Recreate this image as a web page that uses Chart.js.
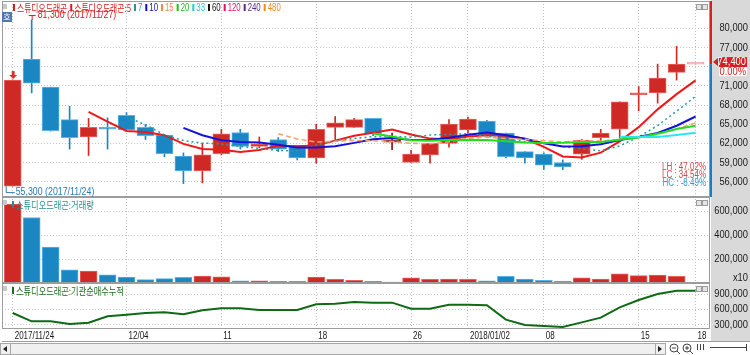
<!DOCTYPE html>
<html>
<head>
<meta charset="utf-8">
<script src="https://cdn.jsdelivr.net/npm/chart.js@4.4.0/dist/chart.umd.min.js"></script>
<style>
html, body { margin: 0; padding: 0; background: #fff; }
canvas { display: block; }
</style>
</head>
<body>
<canvas id="chart" width="750" height="355"></canvas>
<script>
// trading days shown on the chart
const dates = ['2017/11/24','2017/11/27','2017/11/28','2017/11/29','2017/11/30','2017/12/01',
  '2017/12/04','2017/12/05','2017/12/06','2017/12/07','2017/12/08','2017/12/11','2017/12/12',
  '2017/12/13','2017/12/14','2017/12/15','2017/12/18','2017/12/19','2017/12/20','2017/12/21',
  '2017/12/22','2017/12/26','2017/12/27','2017/12/28','2018/01/02','2018/01/03','2018/01/04',
  '2018/01/05','2018/01/08','2018/01/09','2018/01/10','2018/01/11','2018/01/12','2018/01/15',
  '2018/01/16','2018/01/17','2018/01/18'];

const openP  = [55300,75200,70800,65700,63000,64300,66400,64500,63300,60000,57700,60400,63700,61500,62600,61700,59700,64500,64500,65900,62200,59000,60200,62000,64100,65500,63600,60700,60300,59000,60300,62900,64200,69600,69900,73100,74400];
const highP  = [71900,81300,70800,67800,65900,66000,66800,65000,63300,60500,62000,64200,64200,63000,62900,61700,65000,66200,65900,65900,63600,60900,62000,65700,66100,65600,63600,60700,60500,59400,62600,64200,68500,70900,74400,77200,74400];
const lowP   = [55300,69900,63900,61100,60100,61100,64100,62600,59900,55700,55800,60200,61100,61300,60700,59400,58900,62600,64500,63200,61000,59000,58900,61400,63600,63000,59700,58900,57900,57900,59500,62300,62800,67100,68300,71900,74400];
const closeP = [71900,71400,64000,62900,64500,64200,64100,63200,60400,57700,60200,63500,61500,61900,61100,59700,64200,65200,65700,63500,62200,60300,62000,65000,65800,63200,59900,59700,58600,58300,62500,63600,68500,69800,72200,74400,74400];

// moving averages (null = not drawn yet)
const ma5  = [null,null,null,null,66940,65400,63940,63780,63280,61920,61120,61000,60660,60960,61640,61540,61680,62420,63180,63660,64160,63380,62740,62600,63060,63260,63180,62720,61440,59940,59800,60540,62300,64540,67320,69700,71860];
const ma7  = [null,null,null,null,null,null,66140,64900,63330,62430,62040,61900,61510,61200,60900,60800,61730,62440,62760,63040,63090,62970,63300,63410,63500,63140,62630,62270,62030,61500,61140,60830,61590,63000,64790,67040,69340];
const ma10 = [null,null,null,null,null,null,null,null,null,64430,63260,62470,62220,62120,61780,61330,61340,61540,62070,62650,62850,62530,62580,62890,63360,63710,63280,62730,62020,61500,61530,61860,62510,62990,63630,64750,66200];
const ma15 = [null,null,null,null,null,null,null,null,null,null,null,null,null,null,63500,62690,62210,62290,62470,62410,62270,62020,61940,62250,62790,62990,62750,62630,62410,62220,62410,62370,62590,62860,63440,64250,65190];
const ma20 = [null,null,null,null,null,null,null,null,null,null,null,null,null,null,null,null,null,null,null,63540,63060,62500,62400,62510,62570,62520,62310,62140,62050,62080,62190,62200,62550,62940,63500,64230,64740];
const ma33 = [null,null,null,null,null,null,null,null,null,null,null,null,null,null,null,null,null,null,null,null,null,null,null,null,null,null,null,null,null,null,null,null,63040,62980,63000,63320,63670];

// 거래량 (x10) and 기관순매수누적
const volume  = [657000,546000,300000,110000,99000,69000,50000,28000,36000,47000,58000,52000,19000,19000,14000,14000,50000,30000,22000,14000,8000,44000,30000,33000,30000,19000,55000,33000,22000,17000,44000,33000,77000,61000,66000,55000,0];
const instCum = [528000,364000,364000,312000,338000,462000,495000,528000,540000,501000,580000,619000,619000,586000,586000,586000,697000,710000,743000,730000,730000,612000,612000,691000,691000,678000,397000,292000,273000,253000,344000,436000,639000,782000,900000,965000,965000];

// tick labels
const xTickIdx  = [0, 6, 11, 16, 21, 24, 28, 33, 36];
const xTickText = ['2017/11/24','12/04','11','18','26','2018/01/02','08','15','18'];
const priceTicks = [56000,59000,62000,65000,68000,71000,74000,77000,80000];
const volTicks   = [200000,400000,600000];
const instTicks  = [300000,600000,900000];

const legendNames = ['스튜디오드래곤','스튜디오드래곤:5','7','10','15','20','33','60','120','240','480'];
const legendColors = ['#d42020','#e01818','#2a9090','#1010cc','#f08848','#22bb22','#22cccc','#111111','#e0106a','#5a2a8a','#f08a20'];

const RED = '#cf2925', RED_B = '#e8625c';
const BLUE = '#1a86c2', BLUE_B = '#5bb3e6';
const DARK = '#8c1414', PALE = '#efa8a8';

function candleColor(i, border) {
  if (volume[i] === 0) return PALE;
  if (closeP[i] > openP[i]) return border ? RED_B : RED;
  if (closeP[i] < openP[i]) return border ? BLUE_B : BLUE;
  return DARK;
}

const NUM = '"Liberation Sans", Arial, sans-serif';
const KR = '"Noto Sans CJK KR", sans-serif';

function txt(ctx, s, x, y, color, font, align, sx) {
  ctx.save();
  ctx.font = font;
  ctx.fillStyle = color;
  ctx.textBaseline = 'middle';
  ctx.textAlign = align || 'left';
  ctx.translate(x, y);
  ctx.scale(sx || 1, 1);
  ctx.fillText(s, 0, 0);
  const w = ctx.measureText(s).width * (sx || 1);
  ctx.restore();
  return w;
}

function fmt(v) { return v.toLocaleString('en-US'); }

const deco = {
  id: 'deco',
  beforeDraw(chart) {
    const {ctx, chartArea: ca} = chart;
    ctx.save();
    ctx.fillStyle = '#ffffff';
    ctx.fillRect(0, 0, chart.width, chart.height);
    ctx.fillStyle = '#d9d9d9';
    ctx.fillRect(ca.right + 1, 0, chart.width - ca.right - 1, ca.bottom + 12);
    ctx.restore();
  },
  afterDraw(chart) {
    const {ctx, chartArea: ca} = chart;
    const sx = chart.scales.x, sy = chart.scales.y, sv = chart.scales.yv, si = chart.scales.yi;
    const last = closeP.length - 1;

    // panel frames
    ctx.save();
    ctx.strokeStyle = '#9c9c9c';
    ctx.lineWidth = 1;
    [sy, sv, si].forEach(s => {
      ctx.strokeRect(ca.left + 0.5, Math.round(s.top) + 0.5, ca.right - ca.left - 1, Math.round(s.bottom - s.top) - 1);
      // small window buttons top-right
      ctx.fillStyle = '#e4e4e4';
      ctx.fillRect(ca.right - 14, s.top + 3, 5, 5);
      ctx.fillRect(ca.right - 8, s.top + 3, 5, 5);
      ctx.strokeStyle = '#9c9c9c';
      ctx.strokeRect(ca.right - 13.5, s.top + 3.5, 5, 5);
      ctx.strokeRect(ca.right - 7.5, s.top + 3.5, 5, 5);
      // handle top-left
      ctx.fillStyle = '#c8c8c8';
      ctx.fillRect(ca.left + 1, s.top + 3, 4, 5);
    });
    ctx.beginPath();
    ctx.moveTo(ca.left, ca.bottom + 12.5);
    ctx.lineTo(chart.width, ca.bottom + 12.5);
    ctx.stroke();
    ctx.restore();

    // y labels
    const labFont = '11px ' + NUM;
    priceTicks.forEach(v => {
      if (v === 74000) return;
      txt(ctx, fmt(v), 748, sy.getPixelForValue(v), '#1a1a1a', labFont, 'right', 0.85);
    });
    volTicks.forEach(v => txt(ctx, fmt(v), 748, sv.getPixelForValue(v), '#1a1a1a', labFont, 'right', 0.85));
    txt(ctx, 'x10', 748, sv.bottom - 5, '#1a1a1a', labFont, 'right', 0.85);
    instTicks.forEach(v => txt(ctx, fmt(v), 748, si.getPixelForValue(v), '#1a1a1a', labFont, 'right', 0.85));

    // x labels
    xTickIdx.forEach((v, k) => {
      txt(ctx, xTickText[k], sx.getPixelForValue(v) + 2, ca.bottom + 7, '#1a1a1a', '10px ' + NUM, 'left', 0.8);
    });

    // current price indicator
    const yP = sy.getPixelForValue(closeP[last]);
    ctx.save();
    ctx.fillStyle = '#d42020';
    ctx.fillRect(ca.right, sy.top, 2, yP - sy.top);
    ctx.fillStyle = '#1a7fc0';
    ctx.fillRect(ca.right, yP, 2, sy.bottom - yP);
    ctx.fillStyle = '#d42020';
    ctx.beginPath();
    ctx.moveTo(ca.right + 3, yP - 2);
    ctx.lineTo(ca.right + 8, yP - 6);
    ctx.lineTo(ca.right + 8, yP + 2);
    ctx.closePath();
    ctx.fill();
    ctx.fillRect(ca.right + 9, yP - 7, 28, 10);
    ctx.fillStyle = '#ffffff';
    ctx.fillRect(ca.right + 9, yP + 3, 28, 9);
    ctx.restore();
    txt(ctx, fmt(closeP[last]), 746, yP - 2, '#ffffff', labFont, 'right', 0.85);
    const chg = (closeP[last] - closeP[last - 1]) / closeP[last - 1] * 100;
    txt(ctx, chg.toFixed(2) + '%', 746, yP + 8, '#d42020', labFont, 'right', 0.85);

    // main legend
    let x = 13;
    legendNames.forEach((n, k) => {
      ctx.fillStyle = legendColors[k];
      ctx.fillRect(x, 4, 2, 7);
      x += 4;
      x += txt(ctx, n, x, 8, legendColors[k], (k < 2 ? '10px ' + KR : '10px ' + NUM), 'left', 0.78) + 3;
    });
    // 호 button
    ctx.fillStyle = '#4f79ad';
    ctx.fillRect(ca.left, 12, 10, 10);
    txt(ctx, '호', ca.left + 5, 17, '#ffffff', '8px ' + KR, 'center', 1);

    // high / low marks
    let hi = 0, lo = 0;
    highP.forEach((v, i) => { if (v > highP[hi]) hi = i; });
    lowP.forEach((v, i) => { if (v < lowP[lo]) lo = i; });
    const xh = sx.getPixelForValue(hi), yh = sy.getPixelForValue(highP[hi]);
    ctx.save();
    ctx.strokeStyle = '#d42020';
    ctx.beginPath();
    ctx.moveTo(xh - 3, yh - 4.5); ctx.lineTo(xh + 4, yh - 4.5);
    ctx.moveTo(xh + 0.5, yh - 4.5); ctx.lineTo(xh + 0.5, yh);
    ctx.stroke();
    ctx.restore();
    txt(ctx, fmt(highP[hi]) + ' (' + dates[hi] + ')', xh + 6, yh - 5, '#d42020', labFont, 'left', 0.8);

    const xl = sx.getPixelForValue(lo), yl = sy.getPixelForValue(lowP[lo]);
    ctx.save();
    ctx.strokeStyle = '#2a7ab8';
    ctx.beginPath();
    ctx.moveTo(xl - 6.5, yl); ctx.lineTo(xl - 6.5, yl + 6.5); ctx.lineTo(xl + 2, yl + 6.5);
    ctx.stroke();
    ctx.restore();
    txt(ctx, fmt(lowP[lo]) + ' (' + dates[lo] + ')', xl + 3, yl + 6, '#2a7ab8', labFont, 'left', 0.8);

    // red arrow over first candle
    const xa = sx.getPixelForValue(0), ya = sy.getPixelForValue(highP[0]);
    ctx.save();
    ctx.fillStyle = '#e03030';
    ctx.fillRect(xa - 1, ya - 9, 3, 4);
    ctx.beginPath();
    ctx.moveTo(xa - 3.5, ya - 5); ctx.lineTo(xa + 4.5, ya - 5); ctx.lineTo(xa + 0.5, ya - 1);
    ctx.closePath();
    ctx.fill();
    ctx.restore();

    // LH / LC / HC
    const lh = (highP[hi] / lowP[lo] - 1) * 100;
    const lc = (closeP[last] / lowP[lo] - 1) * 100;
    const hc = (closeP[last] / highP[hi] - 1) * 100;
    const sm = '10px ' + NUM;
    txt(ctx, 'LH : ' + lh.toFixed(2) + '%', ca.right - 4, sy.bottom - 30, '#d04848', sm, 'right', 0.8);
    txt(ctx, 'LC : ' + lc.toFixed(2) + '%', ca.right - 4, sy.bottom - 22, '#d04848', sm, 'right', 0.8);
    txt(ctx, 'HC : ' + hc.toFixed(2) + '%', ca.right - 4, sy.bottom - 14, '#3a98c8', sm, 'right', 0.8);

    // sub panel legends
    ctx.fillStyle = '#2a8a8a';
    ctx.fillRect(12, sv.top + 4, 2, 7);
    txt(ctx, '스튜디오드래곤:거래량', 16, sv.top + 8, '#2a8a8a', '10px ' + KR, 'left', 0.82);
    ctx.fillStyle = '#1a6a1a';
    ctx.fillRect(12, si.top + 4, 2, 7);
    txt(ctx, '스튜디오드래곤:기관순매수누적', 16, si.top + 8, '#1a6a1a', '10px ' + KR, 'left', 0.82);

    // scrollbar strip
    const yb = ca.bottom + 14;
    ctx.save();
    ctx.fillStyle = '#f0f0f0';
    ctx.fillRect(0, yb, 666, 12);
    ctx.strokeStyle = '#a8a8a8';
    ctx.strokeRect(0.5, yb + 0.5, 665, 11);
    ctx.strokeRect(0.5, yb + 0.5, 10, 11);
    ctx.strokeRect(655.5, yb + 0.5, 10, 11);
    ctx.fillStyle = '#222';
    ctx.beginPath(); ctx.moveTo(3, yb + 6); ctx.lineTo(7, yb + 3); ctx.lineTo(7, yb + 9); ctx.closePath(); ctx.fill();
    ctx.beginPath(); ctx.moveTo(662, yb + 6); ctx.lineTo(658, yb + 3); ctx.lineTo(658, yb + 9); ctx.closePath(); ctx.fill();
    ctx.strokeStyle = '#444';
    [674, 687].forEach((cx, k) => {
      ctx.beginPath(); ctx.arc(cx, yb + 5, 4, 0, Math.PI * 2); ctx.stroke();
      ctx.beginPath(); ctx.moveTo(cx + 3, yb + 8); ctx.lineTo(cx + 6, yb + 11); ctx.stroke();
      ctx.beginPath(); ctx.moveTo(cx - 2, yb + 5); ctx.lineTo(cx + 2, yb + 5);
      if (k === 1) { ctx.moveTo(cx, yb + 3); ctx.lineTo(cx, yb + 7); }
      ctx.stroke();
    });
    ctx.beginPath();
    [697, 700, 703].forEach(px => { ctx.moveTo(px + 0.5, yb + 1); ctx.lineTo(px + 0.5, yb + 7); });
    ctx.moveTo(710, yb + 4.5); ctx.lineTo(746, yb + 4.5);
    ctx.moveTo(746.5, yb + 1); ctx.lineTo(746.5, yb + 8);
    ctx.stroke();
    ctx.restore();
  }
};

const pts = arr => arr.map((v, i) => ({x: i, y: v})).filter(p => p.y !== null);
const maLine = (arr, color, width, dash) => ({
  type: 'line', yAxisID: 'y', data: pts(arr), borderColor: color, borderWidth: width,
  borderDash: dash || [], pointRadius: 0, tension: 0, order: 0
});

new Chart(document.getElementById('chart'), {
  type: 'bar',
  data: {
    datasets: [
      { type: 'bar', yAxisID: 'y', grouped: false, order: 3,
        data: dates.map((d, i) => ({x: i, y: [lowP[i], highP[i]]})),
        backgroundColor: dates.map((d, i) => candleColor(i)),
        barThickness: 1, minBarLength: 1 },
      { type: 'bar', yAxisID: 'y', grouped: false, order: 2,
        data: dates.map((d, i) => ({x: i, y: [openP[i], closeP[i]]})),
        backgroundColor: dates.map((d, i) => candleColor(i)),
        borderColor: dates.map((d, i) => candleColor(i, true)),
        borderWidth: 1, borderSkipped: false, barThickness: 17, minBarLength: 2 },
      maLine(ma33, '#2ae6ee', 2),
      maLine(ma20, '#22dd22', 2),
      maLine(ma15, '#f4a070', 1.5, [5, 3]),
      maLine(ma10, '#1414d8', 2),
      maLine(ma7, '#2a9a9a', 1.5, [2, 3]),
      maLine(ma5, '#f01818', 2),
      { type: 'bar', yAxisID: 'yv', grouped: false, order: 2,
        data: dates.map((d, i) => ({x: i, y: volume[i]})),
        backgroundColor: dates.map((d, i) => candleColor(i)),
        borderColor: dates.map((d, i) => candleColor(i, true)),
        borderWidth: 1, borderSkipped: 'bottom', barThickness: 17 },
      { type: 'line', yAxisID: 'yi', data: pts(instCum), borderColor: '#0e6a14',
        borderWidth: 2, pointRadius: 0, tension: 0, order: 0 }
    ]
  },
  options: {
    responsive: false,
    animation: false,
    layout: { padding: { left: 2, top: 1, right: 0, bottom: 14 } },
    plugins: { legend: { display: false }, tooltip: { enabled: false } },
    scales: {
      x: {
        type: 'linear', min: -0.564, max: 36.76, offset: false,
        afterBuildTicks: s => { s.ticks = xTickIdx.map(v => ({value: v})); },
        afterFit: s => { s.height = 12; },
        ticks: { display: false },
        grid: { color: '#bdbdbd', drawTicks: false, offset: false },
        border: { display: false, dash: [1, 2] }
      },
      y: {
        position: 'right', stack: 'panels', stackWeight: 196, min: 53600, max: 84280,
        afterBuildTicks: s => { s.ticks = priceTicks.map(v => ({value: v})); },
        afterFit: s => { s.width = 40; },
        ticks: { display: false },
        grid: { color: '#c4c4c4', drawTicks: false },
        border: { display: false, dash: [1, 2] }
      },
      yv: {
        position: 'right', stack: 'panels', stackWeight: 86, min: 0, max: 716700,
        afterBuildTicks: s => { s.ticks = volTicks.map(v => ({value: v})); },
        afterFit: s => { s.width = 40; },
        ticks: { display: false },
        grid: { color: '#c4c4c4', drawTicks: false },
        border: { display: false, dash: [1, 2] }
      },
      yi: {
        position: 'right', stack: 'panels', stackWeight: 46, min: 213700, max: 1115700,
        afterBuildTicks: s => { s.ticks = instTicks.map(v => ({value: v})); },
        afterFit: s => { s.width = 40; },
        ticks: { display: false },
        grid: { color: '#c4c4c4', drawTicks: false },
        border: { display: false, dash: [1, 2] }
      }
    }
  },
  plugins: [deco]
});
</script>
</body>
</html>
